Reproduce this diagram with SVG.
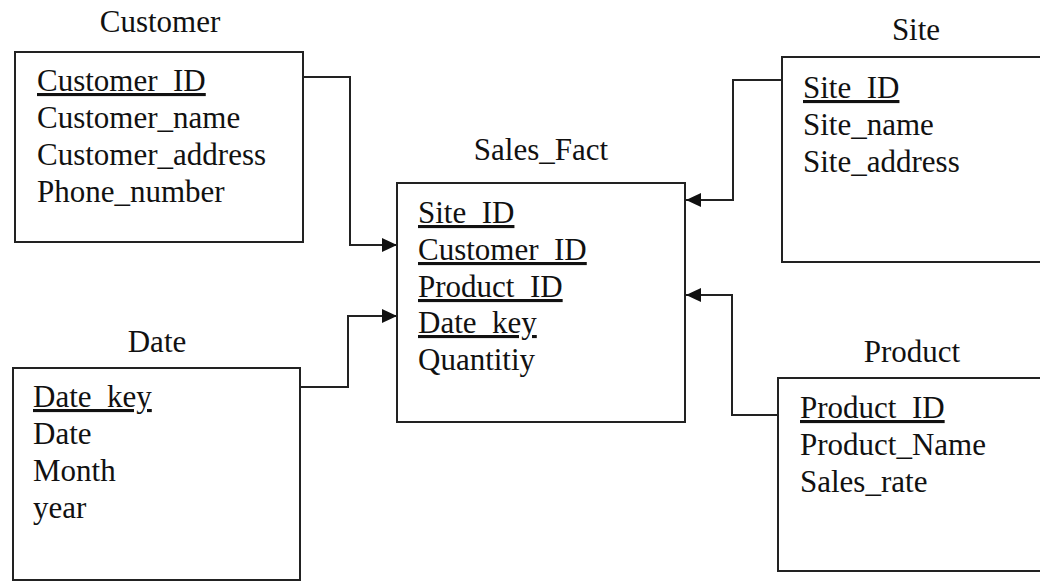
<svg xmlns="http://www.w3.org/2000/svg" width="1040" height="582" viewBox="0 0 1040 582">
  <defs>
    <marker id="arrow" markerWidth="16" markerHeight="14" refX="15" refY="7" orient="auto" markerUnits="userSpaceOnUse">
      <path d="M0,0 L15,7 L0,14 Z" fill="#111"/>
    </marker>
    <style>
      text { font-family: "Liberation Serif", "Times New Roman", serif; font-size: 31px; fill: #111; }
      .title { text-anchor: middle; }
      .key { text-decoration: underline; }
      .box { fill: #fff; stroke: #222; stroke-width: 2; }
      .link { fill: none; stroke: #222; stroke-width: 2; marker-end: url(#arrow); }
    </style>
  </defs>
  <rect width="1040" height="582" fill="#fff"/>

  <!-- relationships: dimension keys pointing into the fact table -->
  <g id="connectors">
    <path class="link" d="M303,77 H350 V245 H397"/>
    <path class="link" d="M300,387 H348 V316 H397"/>
    <path class="link" d="M782,80 H733 V200 H686"/>
    <path class="link" d="M778,415 H732 V295 H686"/>
  </g>

  <g id="customer">
    <text class="title" x="160" y="32">Customer</text>
    <rect class="box" x="15" y="52" width="288" height="190"/>
    <text class="key" x="37" y="91">Customer_ID</text>
    <text x="37" y="128">Customer_name</text>
    <text x="37" y="165">Customer_address</text>
    <text x="37" y="202">Phone_number</text>
  </g>

  <g id="sales_fact">
    <text class="title" x="541" y="160">Sales_Fact</text>
    <rect class="box" x="397" y="183" width="288" height="239"/>
    <text class="key" x="418" y="223">Site_ID</text>
    <text class="key" x="418" y="260">Customer_ID</text>
    <text class="key" x="418" y="297">Product_ID</text>
    <text class="key" x="418" y="333">Date_key</text>
    <text x="418" y="370">Quantitiy</text>
  </g>

  <g id="site">
    <text class="title" x="916" y="40">Site</text>
    <rect class="box" x="782" y="57" width="270" height="205"/>
    <text class="key" x="803" y="98">Site_ID</text>
    <text x="803" y="135">Site_name</text>
    <text x="803" y="172">Site_address</text>
  </g>

  <g id="date">
    <text class="title" x="157" y="352">Date</text>
    <rect class="box" x="13" y="368" width="287" height="212"/>
    <text class="key" x="33" y="407">Date_key</text>
    <text x="33" y="444">Date</text>
    <text x="33" y="481">Month</text>
    <text x="33" y="518">year</text>
  </g>

  <g id="product">
    <text class="title" x="912" y="362">Product</text>
    <rect class="box" x="778" y="378" width="274" height="193"/>
    <text class="key" x="800" y="418">Product_ID</text>
    <text x="800" y="455">Product_Name</text>
    <text x="800" y="492">Sales_rate</text>
  </g>
</svg>
